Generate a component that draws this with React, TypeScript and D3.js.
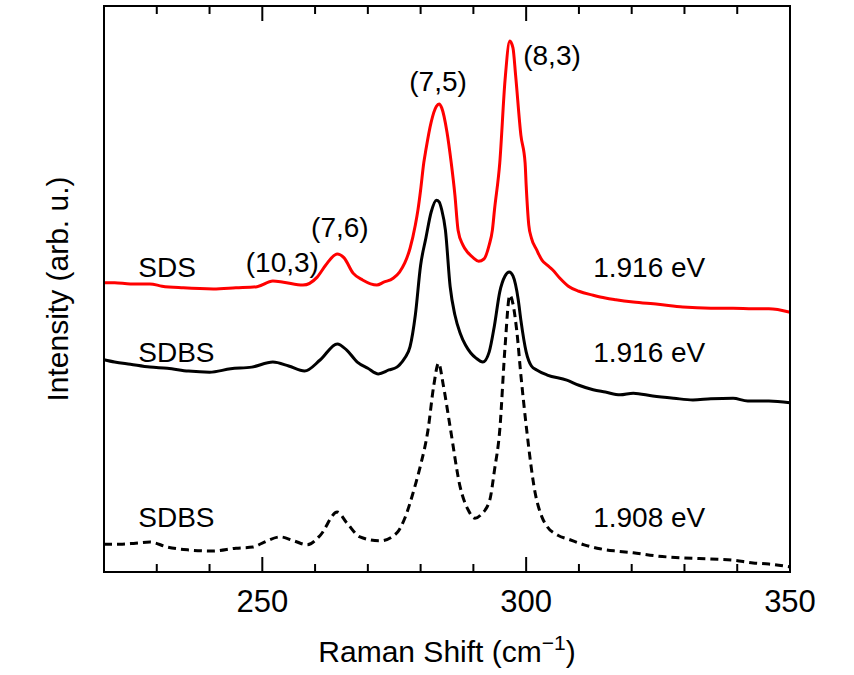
import React, { useRef, useEffect } from "react";
import * as d3 from "d3";

// Raman shift (cm^-1) and intensity (arb. u., vertically offset traces)
const sdsShift = [
  220, 222, 225, 228.7, 231, 235, 240.7, 245, 249, 252, 254, 257.7, 260.4, 262,
  264.2, 265.5, 267.2, 269, 271.7, 273, 274.8, 276, 277, 278, 279, 279.5, 280,
  280.6, 281, 282, 283, 283.5, 284, 285, 285.8, 286.5, 287.1, 288, 289, 290, 291,
  292, 293, 293.6, 294, 295, 296, 296.9, 297.5, 298, 299, 299.8, 300, 300.5, 301,
  302, 303, 304, 305, 306.4, 308, 310, 312.7, 315, 317, 320.3, 325, 329.7, 335,
  339.2, 343, 346, 350,
];
const sdsIntensity = [
  51.1, 51.1, 50.9, 50.9, 50.5, 50.2, 50.0, 50.2, 50.4, 51.4, 51.2, 50.7, 52.1,
  54.2, 56.2, 55.5, 52.8, 51.6, 50.7, 51.2, 51.9, 53.0, 54.6, 57.2, 61.3, 64.0,
  67.5, 72.3, 74.6, 79.5, 82.3, 82.7, 82.0, 77.7, 72.3, 66.6, 60.4, 57.8, 56.4,
  55.5, 54.9, 55.3, 57.8, 60.4, 64.0, 72.3, 86.9, 93.8, 92.6, 87.8, 77.2, 72.3,
  68.4, 61.3, 59.0, 56.9, 55.1, 54.2, 53.4, 51.9, 50.5, 49.6, 48.9, 48.4, 48.1,
  47.7, 47.3, 46.8, 46.6, 46.6, 46.5, 46.5, 45.9,
];

const sdbsShift = [
  220, 222, 225, 228.7, 232, 236, 240, 244, 248, 252, 255, 258, 261, 264.2, 266,
  268, 270, 272, 274, 275.5, 276, 277, 278, 279, 280, 281, 282, 283, 283.5, 284,
  284.7, 285.6, 286.5, 287.5, 288.5, 289.5, 290.5, 291.8, 293, 294, 295, 296,
  296.8, 297.5, 298.5, 299, 300, 301, 302, 304, 307.7, 310, 312.7, 315, 317.8,
  320.3, 324, 328, 331.6, 335, 339.2, 342, 346, 350,
];
const sdbsIntensity = [
  37.5, 37.1, 36.7, 36.2, 36.0, 35.5, 35.3, 35.9, 36.2, 37.1, 36.4, 35.5, 37.5,
  40.3, 39.2, 37.1, 36.0, 35.0, 35.7, 36.2, 36.6, 37.8, 39.8, 45.4, 54.2, 59.0,
  63.6, 65.7, 65.4, 64.0, 60.4, 50.4, 45.4, 42.2, 40.1, 38.7, 37.8, 37.1, 38.9,
  43.6, 49.5, 52.3, 53.0, 52.3, 48.1, 44.5, 38.9, 36.4, 35.7, 34.8, 33.9, 33.0,
  32.2, 31.8, 31.3, 31.6, 31.1, 30.7, 30.4, 30.6, 30.7, 30.2, 30.2, 29.9,
];

const sdbs2Shift = [
  220, 223, 226, 228.7, 232, 236, 240.6, 245, 248.2, 250, 253.4, 256, 258.5, 261,
  264.2, 266, 268.5, 272.3, 275.5, 277, 278, 279, 280, 281.4, 282.5, 283.4, 284.3,
  285.6, 287.5, 289, 290.3, 291.5, 293.1, 294, 295, 296, 296.9, 298.2, 299, 300.1,
  301.7, 303, 304, 306, 308.3, 311, 314, 317, 320.3, 325, 329.7, 335, 339.2, 343,
  346, 350,
];
const sdbs2Intensity = [
  4.9, 4.9, 5.1, 5.3, 4.4, 3.9, 3.7, 4.2, 4.4, 5.1, 6.2, 5.5, 4.8, 6.5, 10.6, 8.7,
  6.2, 5.5, 6.9, 9.5, 12.2, 15.4, 18.9, 25.1, 33.0, 36.9, 33.0, 25.6, 15.0, 11.0,
  9.5, 10.2, 12.7, 18.0, 25.1, 39.8, 48.9, 42.8, 34.8, 25.1, 14.0, 9.7, 8.0, 6.5,
  5.7, 4.8, 4.1, 3.7, 3.4, 2.8, 2.5, 2.3, 2.1, 1.6, 1.4, 0.9,
];

const xTicks = [250, 300, 350];
const chiralityLabels = ["(10,3)", "(7,6)", "(7,5)", "(8,3)"];
const chiralityShift = [253.8, 264.7, 283.3, 304.9];
const chiralityLevel = [53.0, 59.2, 85.0, 89.6];

type Point = [number, number];
const zip = (xs: number[], ys: number[]): Point[] => xs.map((x, i) => [x, ys[i]]);

const App = () => {
  const ref = useRef<SVGSVGElement>(null);

  useEffect(() => {
    const svg = d3.select(ref.current);
    svg.selectAll("*").remove();

    const margin = { top: 6, right: 64, bottom: 103, left: 104 },
      width = 854 - margin.left - margin.right,
      height = 675 - margin.top - margin.bottom;
    const font = "Liberation Sans, Arial, Helvetica, sans-serif";

    const x = d3.scaleLinear().domain([220, 350]).range([0, width]);
    const y = d3.scaleLinear().domain([0, 100]).range([height, 0]);

    const line = d3
      .line<Point>()
      .x((d) => x(d[0]))
      .y((d) => y(d[1]))
      .curve(d3.curveMonotoneX);

    const chart = svg
      .append("g")
      .attr("transform", `translate(${margin.left},${margin.top})`);

    const series = [
      { data: zip(sdsShift, sdsIntensity), color: "#ff0000", dash: null },
      { data: zip(sdbsShift, sdbsIntensity), color: "#000000", dash: null },
      { data: zip(sdbs2Shift, sdbs2Intensity), color: "#000000", dash: "8,5" },
    ];
    series.forEach((s) => {
      chart
        .append("path")
        .datum(s.data)
        .attr("fill", "none")
        .attr("stroke", s.color)
        .attr("stroke-width", 3)
        .attr("stroke-dasharray", s.dash)
        .attr("stroke-linejoin", "round")
        .attr("d", line);
    });

    // ticks, inward on bottom and top
    const minor = d3.range(230, 350, 10).filter((v) => !xTicks.includes(v));
    const tickGroup = chart.append("g").attr("stroke", "#000").attr("stroke-width", 2);
    [...xTicks.map((v) => [v, 15]), ...minor.map((v) => [v, 8])].forEach(([v, len]) => {
      tickGroup.append("line").attr("x1", x(v)).attr("x2", x(v)).attr("y1", height).attr("y2", height - len);
      tickGroup.append("line").attr("x1", x(v)).attr("x2", x(v)).attr("y1", 0).attr("y2", len);
    });

    chart
      .append("rect")
      .attr("width", width)
      .attr("height", height)
      .attr("fill", "none")
      .attr("stroke", "#000")
      .attr("stroke-width", 2);

    chart
      .append("g")
      .selectAll("text")
      .data(xTicks)
      .join("text")
      .attr("x", (d) => x(d))
      .attr("y", height + 40)
      .attr("text-anchor", "middle")
      .attr("font-family", font)
      .attr("font-size", 31)
      .text((d) => d);

    // axis titles
    const xt = chart
      .append("text")
      .attr("x", width / 2)
      .attr("y", height + 90)
      .attr("text-anchor", "middle")
      .attr("font-family", font)
      .attr("font-size", 30);
    xt.append("tspan").text("Raman Shift (cm");
    xt.append("tspan").attr("font-size", 21).attr("dy", -12).text("\u22121");
    xt.append("tspan").attr("dy", 12).text(")");

    chart
      .append("text")
      .attr("transform", `translate(-36,${height / 2}) rotate(-90)`)
      .attr("text-anchor", "middle")
      .attr("font-family", font)
      .attr("font-size", 30)
      .text("Intensity (arb. u.)");

    // chirality labels
    chart
      .append("g")
      .selectAll("text")
      .data(chiralityLabels)
      .join("text")
      .attr("x", (d, i) => x(chiralityShift[i]))
      .attr("y", (d, i) => y(chiralityLevel[i]))
      .attr("text-anchor", "middle")
      .attr("font-family", font)
      .attr("font-size", 28)
      .text((d) => d);

    // sample and excitation labels
    const names = ["SDS", "SDBS", "SDBS"];
    const energies = ["1.916 eV", "1.916 eV", "1.908 eV"];
    const labelLevel = [52.1, 37.1, 7.9];
    names.forEach((n, i) => {
      chart
        .append("text")
        .attr("x", x(226.5))
        .attr("y", y(labelLevel[i]))
        .attr("font-family", font)
        .attr("font-size", 28)
        .text(n);
      chart
        .append("text")
        .attr("x", x(312.7))
        .attr("y", y(labelLevel[i]))
        .attr("font-family", font)
        .attr("font-size", 28)
        .text(energies[i]);
    });
  }, []);

  return (
    <svg
      ref={ref}
      width={854}
      height={675}
      style={{ position: "absolute", left: 0, top: 0, background: "#fff" }}
    />
  );
};

export default App;
